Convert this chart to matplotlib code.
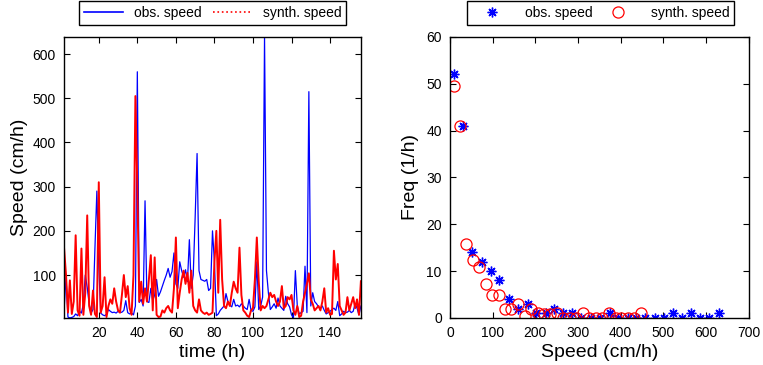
import matplotlib
matplotlib.use("Agg")
import matplotlib.pyplot as plt
from matplotlib.lines import Line2D
import numpy as np

plt.rcParams['font.family'] = ['Liberation Sans', 'DejaVu Sans']

# time series (hours 2..156)
hours = np.arange(2, 157)
obs_speed = [22, 95, 5, 3, 4, 6, 12, 8, 18, 14, 35, 100, 72, 35, 14, 22, 160, 290, 120,
             14, 10, 8, 11, 22, 18, 15, 16, 14, 18, 15, 16, 20, 42, 15, 12, 14, 10, 30,
             560, 38, 45, 30, 268, 40, 38, 70, 42, 55, 90, 52, 62, 75, 88, 100, 115, 95,
             108, 150, 80, 70, 130, 110, 95, 112, 85, 180, 70, 100, 230, 375, 110, 90,
             88, 86, 90, 65, 70, 200, 130, 8, 12, 20, 25, 30, 58, 40, 32, 28, 45, 30, 32,
             28, 35, 30, 25, 22, 45, 20, 18, 28, 130, 22, 30, 50, 639, 110, 60, 22, 28,
             35, 25, 48, 30, 25, 20, 52, 35, 28, 10, 3, 110, 30, 12, 15, 18, 120, 15, 515,
             30, 60, 40, 35, 28, 25, 30, 20, 12, 15, 18, 22, 25, 20, 40, 8, 12, 18, 15,
             16, 20, 15, 18, 35, 25, 10, 30]
synth_speed = [160, 100, 15, 88, 12, 40, 190, 20, 8, 160, 10, 60, 235, 30, 10, 65, 12, 5,
               310, 15, 30, 95, 5, 30, 45, 35, 70, 40, 20, 15, 55, 100, 50, 75, 25, 10, 100,
               505, 300, 40, 85, 35, 70, 40, 90, 145, 20, 140, 10, 5, 6, 20, 15, 25, 30, 20,
               15, 70, 185, 25, 60, 90, 110, 80, 105, 60, 110, 30, 20, 15, 45, 20, 15, 12,
               15, 10, 12, 15, 130, 200, 60, 225, 90, 30, 25, 40, 30, 60, 85, 70, 60, 162,
               55, 20, 15, 8, 5, 20, 25, 90, 185, 85, 20, 30, 25, 30, 45, 60, 50, 55, 40,
               30, 40, 75, 25, 30, 50, 45, 55, 20, 10, 30, 5, 8, 40, 60, 80, 104, 45, 35, 20,
               25, 30, 20, 40, 70, 15, 25, 10, 12, 155, 90, 125, 30, 20, 10, 15, 50, 20, 35,
               50, 25, 45, 10, 86]

# speed distributions
obs_bins = [9, 31, 52, 75, 95, 115, 139, 158, 182, 201, 225, 244, 265, 287, 308, 330,
            351, 374, 394, 417, 437, 458, 481, 501, 523, 543, 564, 587, 607, 630]
obs_freq = [52, 41, 14, 12, 10, 8, 4, 2, 3, 1, 1, 2, 1, 1, 0, 0, 0, 1, 0, 0, 0, 0, 0, 0,
            1, 0, 1, 0, 0, 1]
synth_bins = [8, 23, 38, 53, 68, 85, 98, 114, 129, 143, 159, 175, 190, 205, 219, 235, 250,
              265, 282, 296, 311, 325, 341, 356, 372, 388, 402, 417, 432, 448]
synth_freq = [49.6, 40.9, 15.8, 12.3, 10.9, 7.3, 4.9, 4.9, 1.8, 2, 3, 0.4, 1.9, 1, 0.8,
              0.8, 1, 0, 0, 0, 1, 0, 0, 0, 1, 0, 0, 0, 0, 1]

fig = plt.figure(figsize=(7.63, 3.65), dpi=100)
ax1 = fig.add_axes([0.084, 0.129, 0.389, 0.770])
ax2 = fig.add_axes([0.590, 0.129, 0.391, 0.770])

# left: time series
ax1.plot(hours, obs_speed, color='b', lw=0.9)
ax1.plot(hours, synth_speed, color='r', lw=1.4)
ax1.set_xlim(hours[0], hours[-1])
ax1.set_ylim(min(min(obs_speed), min(synth_speed)), max(max(obs_speed), max(synth_speed)))
ax1.set_xticks(range(20, 141, 20))
ax1.set_yticks(range(100, 601, 100))
ax1.set_xlabel('time (h)', fontsize=14, labelpad=3)
ax1.set_ylabel('Speed (cm/h)', fontsize=14, labelpad=3)
h1 = [Line2D([], [], color='b', lw=1.2), Line2D([], [], color='r', lw=1.2, ls=':')]
ax1.legend(h1, ['obs. speed', 'synth. speed'], ncol=2, loc='lower center',
           bbox_to_anchor=(0.5, 1.043), borderaxespad=0, fancybox=False,
           edgecolor='black', framealpha=1, fontsize=10, handlelength=2.8,
           columnspacing=0.8, handletextpad=0.8, borderpad=0.35)

# right: frequency
ax2.plot(obs_bins, obs_freq, ls='none', marker=(8, 2, 0), color='b', ms=7, mew=1.0)
ax2.plot(synth_bins, synth_freq, ls='none', marker='o', mfc='none', mec='r', ms=8, mew=0.9)
ax2.set_xlim(0, 700)
ax2.set_ylim(0, 60)
ax2.set_xticks(range(0, 701, 100))
ax2.set_yticks(range(0, 61, 10))
ax2.set_xlabel('Speed (cm/h)', fontsize=14, labelpad=3)
ax2.set_ylabel('Freq (1/h)', fontsize=14, labelpad=5)
h2 = [Line2D([], [], ls='none', marker=(8, 2, 0), color='b', ms=7, mew=1.0),
      Line2D([], [], ls='none', marker='o', mfc='none', mec='r', ms=8, mew=0.9)]
ax2.legend(h2, ['obs. speed', 'synth. speed'], ncol=2, loc='lower center',
           bbox_to_anchor=(0.505, 1.043), borderaxespad=0, fancybox=False,
           edgecolor='black', framealpha=1, fontsize=10, handlelength=2.8,
           columnspacing=0.4, handletextpad=1.0, borderpad=0.35)

for ax in (ax1, ax2):
    ax.tick_params(direction='in', top=True, right=True, length=4, labelsize=10, pad=6)
    for s in ax.spines.values():
        s.set_linewidth(1.0)

fig.savefig('out.png', dpi=100)
